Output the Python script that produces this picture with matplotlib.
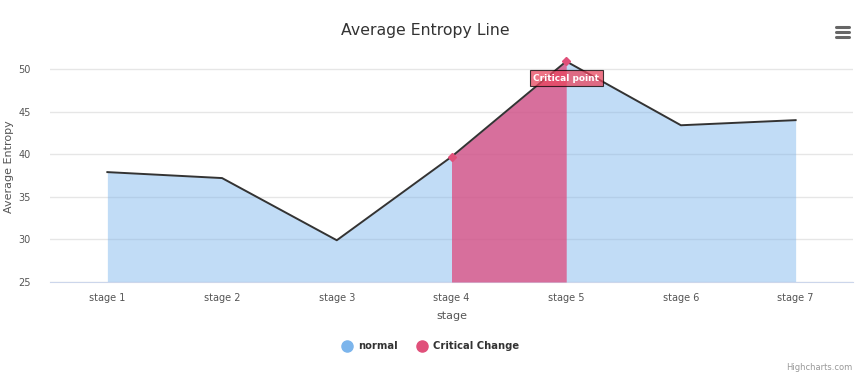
import numpy as np
import matplotlib.pyplot as plt
from matplotlib.lines import Line2D

stages = ["stage 1", "stage 2", "stage 3", "stage 4", "stage 5", "stage 6", "stage 7"]
entropy = [37.9, 37.2, 29.9, 39.7, 50.9, 43.4, 44.0]
critical_idx = [3, 4]   # stage 4 -> stage 5
critical_label = "Critical point"

blue = "#7cb5ec"
red = "#e0507a"

fig = plt.figure(figsize=(8.58, 3.77), dpi=100)
ax = fig.add_axes([50 / 858, 1 - 282 / 377, 803 / 858, 230 / 377])

x = np.arange(len(stages))
ax.fill_between(x, 25, entropy, color=blue, alpha=0.47, linewidth=0, zorder=2)
xc = x[critical_idx]
yc = [entropy[i] for i in critical_idx]
ax.fill_between(xc, 25, yc, color="#e0457a", alpha=0.72, linewidth=0, zorder=3)
ax.plot(x, entropy, color="#333333", linewidth=1.4, zorder=4)
ax.plot(xc, yc, linestyle="none", marker="D", markersize=4, color=red, zorder=5)

ax.annotate(critical_label, (xc[1], yc[1]), xytext=(0, -12), textcoords="offset points",
            ha="center", va="center", fontsize=6.5, color="white", fontweight="bold",
            bbox=dict(boxstyle="square,pad=0.4", fc="#e8455e", ec="black", lw=0.8, alpha=0.75),
            zorder=6)

ax.set_xlim(-0.5, len(stages) - 0.5)
ax.set_ylim(25, 52)
ax.set_xticks(x)
ax.set_xticklabels(stages)
ax.set_yticks([25, 30, 35, 40, 45, 50])
ax.tick_params(axis="both", length=0, labelsize=7, colors="#555555", pad=8)
ax.tick_params(axis="y", pad=14)
ax.grid(axis="y", color="#e6e6e6", linewidth=1)
ax.set_axisbelow(True)
for s in ["top", "right", "left"]:
    ax.spines[s].set_visible(False)
ax.spines["bottom"].set_color("#ccd6eb")

ax.set_xlabel("stage", fontsize=8, color="#555555", labelpad=6)
ax.set_ylabel("Average Entropy", fontsize=8, color="#555555", labelpad=3)

fig.text(425 / 858, 1 - 30 / 377, "Average Entropy Line", ha="center", va="center",
         fontsize=11.3, color="#333333")

# menu icon
for yy in [27, 32, 37]:
    fig.add_artist(Line2D([836 / 858, 849 / 858], [1 - yy / 377] * 2, color="#666666",
                          linewidth=2.2, solid_capstyle="round"))

handles = [Line2D([], [], linestyle="none", marker="o", markersize=8, color=blue),
           Line2D([], [], linestyle="none", marker="o", markersize=8, color=red)]
fig.legend(handles, ["normal", "Critical Change"], loc="center", bbox_to_anchor=(428 / 858, 1 - 346 / 377),
           ncol=2, frameon=False, prop={"size": 7.2, "weight": "bold"}, handletextpad=0.1,
           columnspacing=1.4, labelcolor="#333333")

fig.text(852 / 858, 1 - 367 / 377, "Highcharts.com", ha="right", va="center", fontsize=6, color="#999999")

fig.savefig("out.png", dpi=100)
